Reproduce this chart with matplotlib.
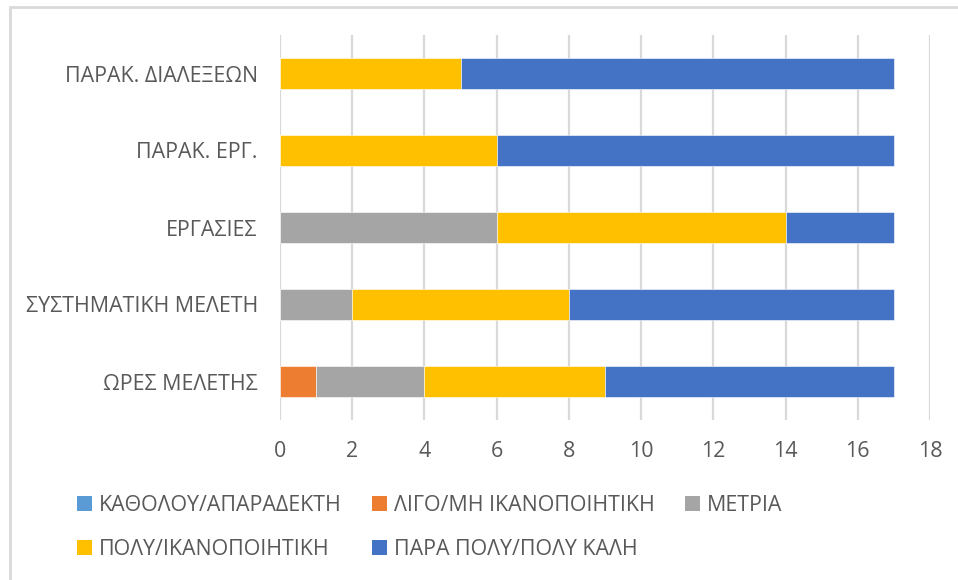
import matplotlib
matplotlib.use("Agg")
import matplotlib.pyplot as plt
from matplotlib.patches import Rectangle, Patch

categories = ["ΩΡΕΣ ΜΕΛΕΤΗΣ", "ΣΥΣΤΗΜΑΤΙΚΗ ΜΕΛΕΤΗ", "ΕΡΓΑΣΙΕΣ", "ΠΑΡΑΚ. ΕΡΓ.", "ΠΑΡΑΚ. ΔΙΑΛΕΞΕΩΝ"]
series_names = ["ΚΑΘΟΛΟΥ/ΑΠΑΡΑΔΕΚΤΗ", "ΛΙΓΟ/ΜΗ ΙΚΑΝΟΠΟΙΗΤΙΚΗ", "ΜΕΤΡΙΑ",
                "ΠΟΛΥ/ΙΚΑΝΟΠΟΙΗΤΙΚΗ", "ΠΑΡΑ ΠΟΛΥ/ΠΟΛΥ ΚΑΛΗ"]
katholou = [0, 0, 0, 0, 0]
ligo = [1, 0, 0, 0, 0]
metria = [3, 2, 6, 0, 0]
poly = [5, 6, 8, 6, 5]
para_poly = [8, 9, 3, 11, 12]
series_values = [katholou, ligo, metria, poly, para_poly]
colors = ["#5B9BD5", "#ED7D31", "#A5A5A5", "#FFC000", "#4472C4"]
xticks = [0, 2, 4, 6, 8, 10, 12, 14, 16, 18]

plt.rcParams['font.family'] = ['Open Sans', 'DejaVu Sans']
text_color = "#595959"
fs = 15.4

fig = plt.figure(figsize=(9.58, 5.8), dpi=100)
W, H = 958, 580
ax = fig.add_axes([280 / W, 1 - 420 / H, 650 / W, 385 / H])

# outer chart frame
fig.patches.append(Rectangle((10 / W, -0.1), 1.2, 1 - 7 / H + 0.1, transform=fig.transFigure,
                             fill=False, edgecolor="#D9D9D9", linewidth=2, zorder=0))

ypos = list(range(len(categories)))
left = [0] * len(categories)
for name, vals, c in zip(series_names, series_values, colors):
    ax.barh(ypos, vals, left=left, height=0.39, color=c, edgecolor="white",
            linewidth=0.4, label=name, zorder=3)
    left = [l + v for l, v in zip(left, vals)]

ax.set_xlim(0, 18)
ax.set_ylim(-0.5, len(categories) - 0.5)
ax.set_xticks(xticks)
ax.set_yticks(ypos)
ax.set_yticklabels(categories)
ax.grid(axis='x', color="#D9D9D9", linewidth=1.6, zorder=0)
ax.grid(axis='y', visible=False)
for s in ax.spines.values():
    s.set_visible(False)
ax.tick_params(axis='both', length=0, labelsize=fs, labelcolor=text_color)
ax.tick_params(axis='x', pad=15)
ax.tick_params(axis='y', pad=16)

handles = [Patch(facecolor=c, edgecolor='none') for c in colors]
# row-wise ordering for a 3-column legend (matplotlib fills column by column)
order = [0, 3, 1, 4, 2]
fig.legend([handles[i] for i in order], [series_names[i] for i in order], ncol=3,
           loc='upper left', bbox_to_anchor=(68 / W, 1 - 486 / H), frameon=False,
           fontsize=fs, labelcolor=text_color, handlelength=0.7, handleheight=0.7,
           handletextpad=0.35, columnspacing=1.4, labelspacing=1.1, borderaxespad=0)

fig.savefig("out.png", dpi=100)
